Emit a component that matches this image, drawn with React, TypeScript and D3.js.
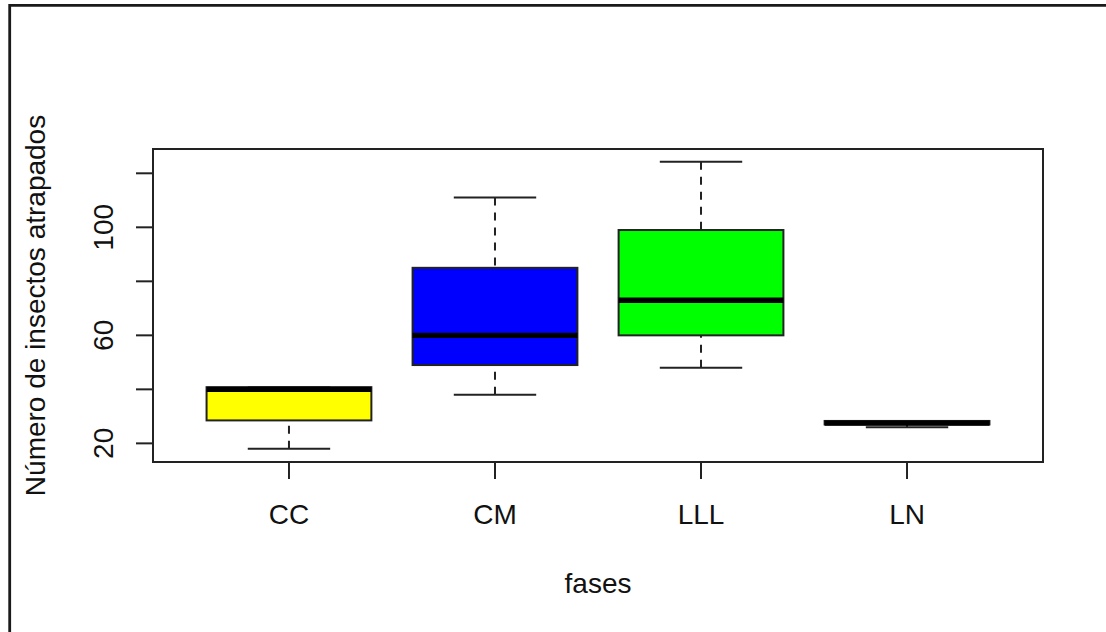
import React from 'react';
import * as d3 from 'd3';

// box plot stats
const categories = ['CC', 'CM', 'LLL', 'LN'];
const mins = [18, 38, 48, 26];
const q1s = [28.5, 49, 60, 27];
const medians = [40, 60, 73, 27.5];
const q3s = [40.8, 85, 99, 28.3];
const maxs = [40.8, 111, 124.3, 28.3];
const fills = ['#ffff00', '#0000ff', '#00ff00', '#ffffff'];

const yTicks = [20, 40, 60, 80, 100, 120];
const yTickLabels = [20, 60, 100];

const W = 1106;
const H = 632;
const plot = { left: 153, right: 1043, top: 149, bottom: 462 };
const font = '"Liberation Sans", Arial, sans-serif';

function App() {
  const x = d3.scaleLinear().domain([0.34, 4.66]).range([plot.left, plot.right]);
  const y = d3.scaleLinear().domain([13.1, 129]).range([plot.bottom, plot.top]);
  const step = x(2) - x(1);
  const boxW = step * 0.8;
  const capW = boxW * 0.5;

  return (
    <svg width={W} height={H} style={{ position: 'absolute', left: 0, top: 0, background: '#fff' }}>
      {/* window frame */}
      <path d={`M9.7,${H + 5} V5.3 H${W + 5}`} fill="none" stroke="#1a1a1a" strokeWidth={2.8} />

      {/* boxes */}
      {categories.map((c, i) => {
        const cx = x(i + 1);
        return (
          <g key={c}>
            <line x1={cx} x2={cx} y1={y(maxs[i])} y2={y(q3s[i])} stroke="#222" strokeWidth={2} strokeDasharray="8,7" />
            <line x1={cx} x2={cx} y1={y(mins[i])} y2={y(q1s[i])} stroke="#222" strokeWidth={2} strokeDasharray="8,7" />
            <line x1={cx - capW / 2} x2={cx + capW / 2} y1={y(maxs[i])} y2={y(maxs[i])} stroke="#222" strokeWidth={2} />
            <line x1={cx - capW / 2} x2={cx + capW / 2} y1={y(mins[i])} y2={y(mins[i])} stroke="#222" strokeWidth={2} />
            <rect
              x={cx - boxW / 2}
              y={y(q3s[i])}
              width={boxW}
              height={y(q1s[i]) - y(q3s[i])}
              fill={fills[i]}
              stroke="#222"
              strokeWidth={2}
            />
            <line x1={cx - boxW / 2} x2={cx + boxW / 2} y1={y(medians[i])} y2={y(medians[i])} stroke="#000" strokeWidth={5.3} />
          </g>
        );
      })}

      {/* plot box */}
      <rect x={plot.left} y={plot.top} width={plot.right - plot.left} height={plot.bottom - plot.top} fill="none" stroke="#222" strokeWidth={2} />

      {/* y axis */}
      {yTicks.map(t => (
        <line key={t} x1={plot.left - 17} x2={plot.left} y1={y(t)} y2={y(t)} stroke="#222" strokeWidth={2} />
      ))}
      {yTickLabels.map(t => (
        <text key={t} transform={`translate(113,${y(t)}) rotate(-90)`} textAnchor="middle" fontFamily={font} fontSize={28} fill="#111">
          {t}
        </text>
      ))}

      {/* x axis */}
      {categories.map((c, i) => (
        <g key={c}>
          <line x1={x(i + 1)} x2={x(i + 1)} y1={plot.bottom} y2={plot.bottom + 17} stroke="#222" strokeWidth={2} />
          <text x={x(i + 1)} y={524} textAnchor="middle" fontFamily={font} fontSize={28} fill="#111">{c}</text>
        </g>
      ))}

      <text x={(plot.left + plot.right) / 2} y={593} textAnchor="middle" fontFamily={font} fontSize={28} fill="#111">fases</text>
      <text transform={`translate(45,${(plot.top + plot.bottom) / 2}) rotate(-90)`} textAnchor="middle" fontFamily={font} fontSize={28} fill="#111">
        Número de insectos atrapados
      </text>
    </svg>
  );
}

export default App;
